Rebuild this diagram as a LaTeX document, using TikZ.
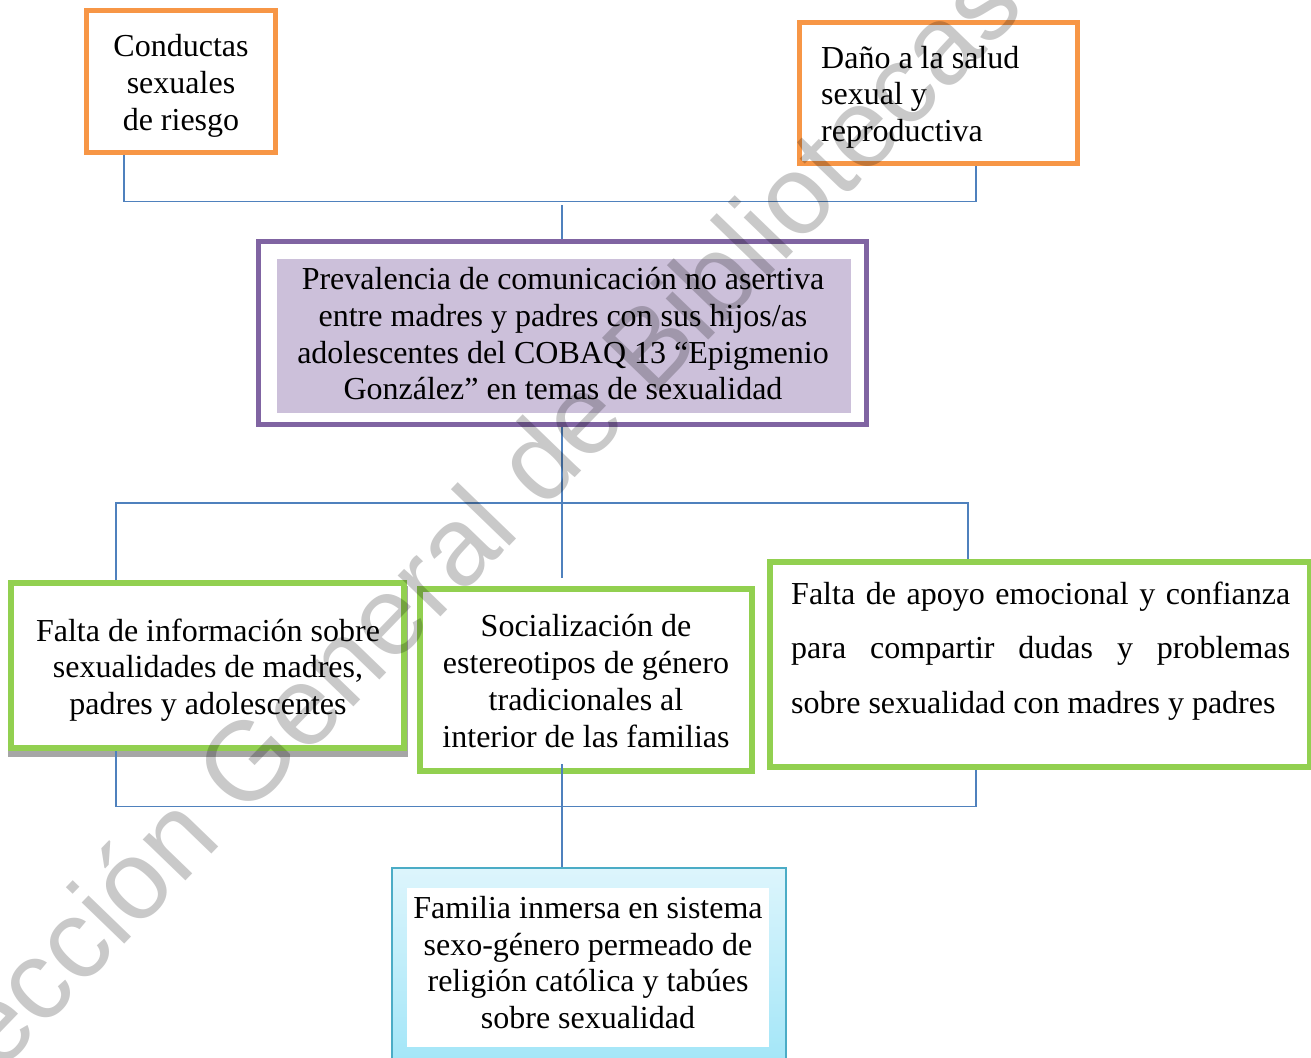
\documentclass[tikz,border=0pt]{standalone}
\usepackage{fontspec}
\setmainfont{Liberation Serif}
\newfontfamily\wmfont{Liberation Sans}
\definecolor{orng}{HTML}{F79646}
\definecolor{purp}{HTML}{8064A2}
\definecolor{purpfill}{HTML}{CCC0DA}
\definecolor{grn}{HTML}{92D050}
\definecolor{conncol}{HTML}{4F81BD}
\definecolor{teal2}{HTML}{4BACC6}
\definecolor{famtop}{HTML}{DDF5FC}
\definecolor{fambot}{HTML}{A3E6F8}
\definecolor{shadowc}{HTML}{A6A6A6}
\tikzset{
  box/.style={rectangle, inner sep=0pt, fill=white},
  obox/.style={box, draw=orng, line width=5pt},
  gbox/.style={box, draw=grn, line width=6pt},
  pframe/.style={box, draw=purp, line width=5pt},
  conn/.style={draw=conncol, line width=1.5pt},
  txt/.style={inner sep=0pt, font=\fontsize{32}{36.8}\selectfont},
  wm/.style={inner sep=0pt, text=black, text opacity=0.21, font=\wmfont\fontsize{112}{112}\selectfont}
}
\begin{document}
\begin{tikzpicture}[x=1pt,y=-1pt]
\useasboundingbox (0,0) rectangle (1311,1057);
\clip (0,0) rectangle (1311,1057);
\fill[white] (0,0) rectangle (1311,1057);

% top boxes
\node[obox, minimum width=189pt, minimum height=142pt] (cd) at (181,81.5) {};
\node[txt, anchor=base] (cdt) at (181,56.5) {\parbox[t]{300pt}{\centering Conductas\\sexuales\\de riesgo}};
\node[obox, minimum width=278pt, minimum height=141pt] (dn) at (938.5,93) {};
\node[txt, anchor=base west] (dnt) at (821,68) {\parbox[t]{250pt}{\raggedright Daño a la salud\\sexual y\\reproductiva}};

% central problem
\node[pframe, minimum width=608pt, minimum height=183pt] (pvf) at (562.5,333) {};
\node[box, fill=purpfill, minimum width=574.5pt, minimum height=154pt] (pvi) at (563.75,336) {};
\node[txt, anchor=base] (pvt) at (563,289.5) {\parbox[t]{600pt}{\centering Prevalencia de comunicación no asertiva\\entre madres y padres con sus hijos/as\\adolescentes del COBAQ 13 “Epigmenio\\González” en temas de sexualidad}};

% cause boxes
\fill[shadowc] (8,586) rectangle (408,757);
\node[gbox, minimum width=393pt, minimum height=165pt] (fi) at (207.5,665.5) {};
\node[txt, anchor=base] (fit) at (208,641) {\parbox[t]{400pt}{\centering Falta de información sobre\\sexualidades de madres,\\padres y adolescentes}};
\node[gbox, minimum width=332pt, minimum height=182pt] (so) at (586,680) {};
\node[txt, anchor=base] (sot) at (586,636.7) {\parbox[t]{400pt}{\centering Socialización de\\estereotipos de género\\tradicionales al\\interior de las familias}};
\node[gbox, minimum width=540pt, minimum height=205pt] (fa) at (1040,664.5) {};
\node[txt, anchor=base west] (fat) at (791,604) {\parbox[t]{499pt}{\fontsize{32}{54.5}\selectfont
  \makebox[499pt][s]{Falta de apoyo emocional y confianza}\\
  \makebox[499pt][s]{para compartir dudas y problemas}\\
  sobre sexualidad con madres y padres}};

% root box
\node[box, draw=teal2, line width=2pt, top color=famtop, bottom color=fambot, minimum width=394pt, minimum height=194pt] (fm) at (589,965) {};
\node[box, minimum width=362pt, minimum height=159pt] (fmi) at (588,967.5) {};
\node[txt, anchor=base] (fmt) at (588,918.3) {\parbox[t]{400pt}{\centering Familia inmersa en sistema\\sexo-género permeado de\\religión católica y tabúes\\sobre sexualidad}};

% connectors
\coordinate (b1) at (562,201.5);
\coordinate (b1m) at (562,205);
\coordinate (b2) at (562,503);
\coordinate (b2e) at (562,578);
\coordinate (b3) at (562,806.5);
\coordinate (b3t) at (562,764);
\draw[conn] ([xshift=-57pt]cd.south) |- (b1) -| ([xshift=37.5pt]dn.south);
\draw[conn] (b1m) -- (b1m |- pvf.north);
\draw[conn] (pvf.south -| b2) -- (b2e);
\draw[conn] ([xshift=-91.5pt]fi.north) |- (b2) -| ([xshift=-72pt]fa.north);
\draw[conn] ([xshift=-91.5pt]fi.south) |- (b3) -| ([xshift=-64pt]fa.south);
\draw[conn] (b3t) -- (b3t |- fm.north);

% watermark
\node[wm, rotate=46, anchor=base west] (wmk) at (-101,1178) {Dirección General de Bibliotecas};
\end{tikzpicture}
\end{document}
